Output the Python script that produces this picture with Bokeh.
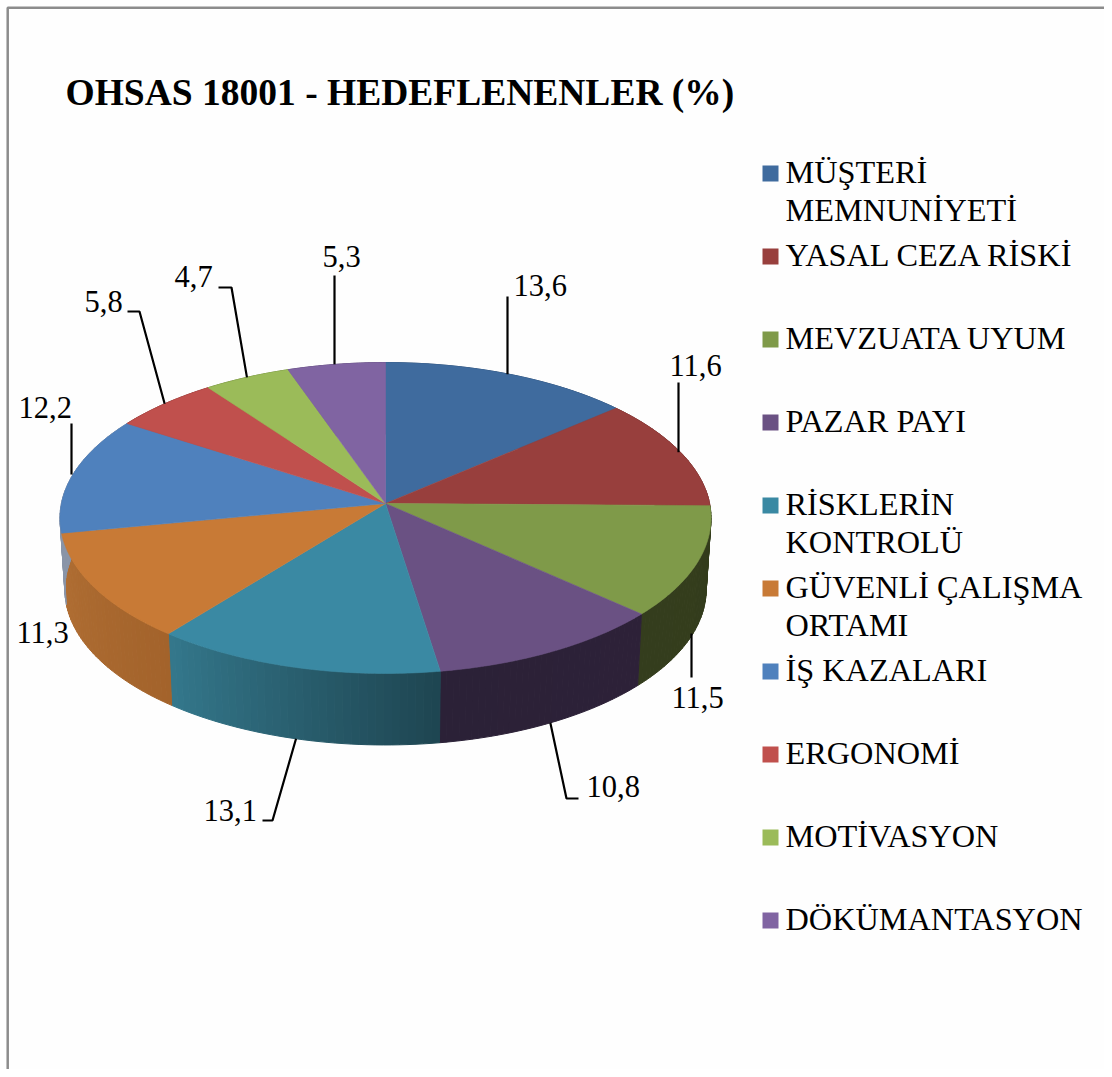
import math
from bokeh.plotting import figure
from bokeh.models import Range1d
from bokeh.core.properties import value
from bokeh.embed import file_html
from bokeh.resources import INLINE

title = "OHSAS 18001 - HEDEFLENENLER (%)"
categories = ["MÜŞTERİ\nMEMNUNİYETİ", "YASAL CEZA RİSKİ", "MEVZUATA UYUM", "PAZAR PAYI",
              "RİSKLERİN\nKONTROLÜ", "GÜVENLİ ÇALIŞMA\nORTAMI", "İŞ KAZALARI", "ERGONOMİ",
              "MOTİVASYON", "DÖKÜMANTASYON"]
values = [13.6, 11.6, 11.5, 10.8, 13.1, 11.3, 12.2, 5.8, 4.7, 5.3]

top_colors = ["#3F6B9E", "#983F3D", "#7F9A49", "#6A5183", "#3A89A3",
              "#C87A36", "#4F81BD", "#C0504D", "#9BBB59", "#8064A2"]
side_start = ["#2E4D73", "#6E2D2C", "#343D1D", "#2B2137", "#34788C",
              "#B06E33", "#8A95A8", "#8C3A38", "#71893F", "#5D4976"]
side_end = ["#2E4D73", "#6E2D2C", "#333C1B", "#2D2138", "#1E4551",
            "#A3632B", "#8A95A8", "#8C3A38", "#71893F", "#5D4976"]
legend_colors = top_colors

# layout, in picture pixels
CX, CY, A, B, K = 385.0, 503.0, 324.1, 154.1, 0.0933
DEPTH, SHRINK = 71.5, 0.985
STRIPS = 36

def rim(frac):
    t = 2 * math.pi * frac
    u, v = math.sin(t), -math.cos(t)
    d = 1 - K * v
    return CX + A * u / d, CY + B * v / d

def lower(pt):
    return CX + (pt[0] - CX) * SHRINK, pt[1] + DEPTH

def mix(c1, c2, f):
    a = [int(c1[i:i + 2], 16) for i in (1, 3, 5)]
    b = [int(c2[i:i + 2], 16) for i in (1, 3, 5)]
    return "#%02x%02x%02x" % tuple(round(x + (y - x) * f) for x, y in zip(a, b))

p = figure(width=1104, height=1069, x_range=Range1d(0, 1104), y_range=Range1d(1069, 0),
           output_backend="svg", toolbar_location=None, min_border=0)
p.axis.visible = False
p.grid.visible = False
p.outline_line_color = None
p.background_fill_color = "#FEFEFE"
p.border_fill_color = "#FEFEFE"

# frame
p.line([7.2, 7.2, 1104], [1069, 7.2, 7.2], line_color="#8C8C8C", line_width=2.5)

total = sum(values)
fr = [0.0]
for val in values:
    fr.append(fr[-1] + val / total)

# side walls
xs, ys, cs = [], [], []
for i in range(len(values)):
    for j in range(STRIPS):
        f0 = fr[i] + (fr[i + 1] - fr[i]) * j / STRIPS
        f1 = fr[i] + (fr[i + 1] - fr[i]) * (j + 1) / STRIPS
        a0, a1 = rim(f0), rim(f1)
        b0, b1 = lower(a0), lower(a1)
        xs.append([a0[0], a1[0], b1[0], b0[0]])
        ys.append([a0[1], a1[1], b1[1], b0[1]])
        g = (j + .5) / STRIPS
        if a1[0] < a0[0]:
            g = 1 - g
        cs.append(mix(side_start[i], side_end[i], g))
p.patches(xs, ys, fill_color=cs, line_color=cs, line_width=1)

# top face
for i in range(len(values)):
    n = 80
    pts = [rim(fr[i] + (fr[i + 1] - fr[i]) * j / n) for j in range(n + 1)]
    p.patch([CX] + [q[0] for q in pts], [CY] + [q[1] for q in pts],
            fill_color=top_colors[i], line_color=top_colors[i], line_width=0.6)

# data labels: text left edge, vertical centre, elbow points between the text and the wedge
label_pos = [(513, 285), (669, 365), (671, 697), (586, 786), (203, 810),
             (16, 632), (18, 407), (84, 301), (174, 276), (322, 256)]
elbows = [[(507, 296)], [(678, 382)], [(691, 677)], [(578, 798), (566, 798)], [(262, 820), (272, 820)],
          [], [(71, 423)], [(127, 311), (139, 311)], [(218, 287), (231, 287)], [(334, 275)]]
for i, val in enumerate(values):
    mid = rim((fr[i] + fr[i + 1]) / 2)
    anchor = lower(mid) if mid[1] > CY + 40 else mid
    if elbows[i]:
        pts = elbows[i] + [(elbows[i][-1][0] if len(elbows[i]) == 1 else anchor[0], anchor[1])]
        p.line([q[0] for q in pts], [q[1] for q in pts], line_color="#000000", line_width=2.2)
    p.text([label_pos[i][0]], [label_pos[i][1]], text=[f"{val:.1f}".replace(".", ",")],
           text_font=value("Liberation Serif"), text_font_size="30.5px", text_color="#000000",
           text_align="left", text_baseline="middle")

# title
p.text([65], [92], text=[title], text_font=value("Liberation Serif"), text_font_size="37.5px",
       text_font_style="bold", text_color="#000000", text_align="left", text_baseline="middle")

# legend
for i, cat in enumerate(categories):
    yc = 173 + 83 * i
    p.quad(left=[762], right=[778], top=[yc - 8], bottom=[yc + 8], fill_color=legend_colors[i],
           line_color=None)
    for k, line in enumerate(cat.split("\n")):
        p.text([785], [yc - 1.5 + 37.5 * k], text=[line], text_font=value("Liberation Serif"),
               text_font_size="32.3px", text_color="#000000", text_align="left",
               text_baseline="middle")

open("out.html", "w").write(file_html(p, INLINE))
